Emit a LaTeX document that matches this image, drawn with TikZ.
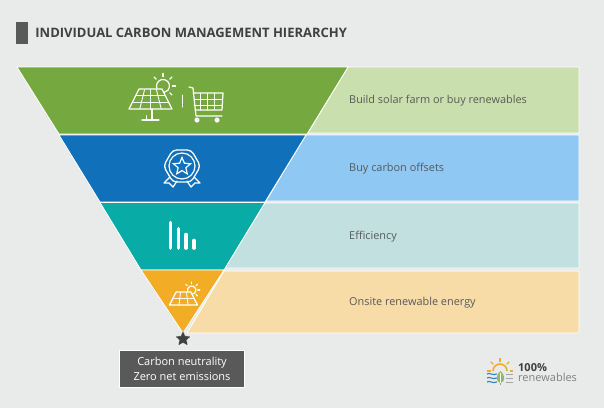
\documentclass[tikz,border=0pt]{standalone}
\usepackage{fontspec}
\setmainfont{Open Sans}
\usepackage{xcolor}
\usetikzlibrary{shapes.geometric, positioning, calc}

\definecolor{pagegray}{HTML}{E9EBEA}
\definecolor{markgray}{HTML}{595959}
\definecolor{titlegray}{HTML}{404040}
\definecolor{solargreen}{HTML}{75A83F}
\definecolor{offsetblue}{HTML}{1071BA}
\definecolor{efficiencyteal}{HTML}{08ABA6}
\definecolor{onsiteorange}{HTML}{F2AC26}
\definecolor{solarbar}{HTML}{C9E0AE}
\definecolor{offsetbar}{HTML}{90C8F4}
\definecolor{efficiencybar}{HTML}{C2E0E0}
\definecolor{onsitebar}{HTML}{F8DCA8}
\definecolor{logoblue}{HTML}{2E86C8}

\begin{document}
\begin{tikzpicture}[
        x=1pt, y=-1pt,
        band/.style={draw=white, line width=0.8pt},
        barlabel/.style={anchor=west, inner sep=0pt, font=\fontsize{10.9}{12}\selectfont, text=markgray},
        icon/.style={draw=white, line width=1.25pt, line join=round, line cap=round},
        solar/.pic={
            % sun, only the part above the panel
            \draw[icon] ($(12.5,-6)+(160:6.5)$) arc[start angle=160, end angle=440, radius=6.5];
            \foreach \a in {-135,-90,-45,0,45} {
                \draw[icon] ($(12.5,-6)+(\a:9.5)$) -- ($(12.5,-6)+(\a:12.5)$);
            }
            % panel
            \draw[icon] (-11.5,-3) -- (11.5,-3) -- (21.5,17) -- (-21.5,17) -- cycle;
        }
    ]

    \useasboundingbox (0,0) rectangle (604,408);
    \fill[pagegray] (0,0) rectangle (604,408);

    % Title
    \node[fill=markgray, minimum width=12pt, minimum height=22pt, inner sep=0pt] (titlemark) at (22,33) {};
    \node[right=7pt of titlemark, inner sep=0pt, font=\bfseries\fontsize{13}{14}\selectfont, text=titlegray] (title) {INDIVIDUAL CARBON MANAGEMENT HIERARCHY};

    % Bars behind the funnel
    \fill[solarbar, band] (348,67) -- (579,67) -- (579,133) -- (308,133) -- cycle;
    \fill[offsetbar, band] (306,135) -- (579,135) -- (579,201) -- (266,201) -- cycle;
    \fill[efficiencybar, band] (265,203) -- (579,203) -- (579,268) -- (225,268) -- cycle;
    \fill[onsitebar, band] (224,271) -- (579,271) -- (579,333) -- (187,333) -- cycle;

    % Funnel
    \fill[solargreen, band] (17,67) -- (348,67) -- (307,134) -- (59,134) -- cycle;
    \fill[offsetblue, band] (59,135) -- (306,135) -- (265,202) -- (100,202) -- cycle;
    \fill[efficiencyteal, band] (100,202.5) -- (265,202.5) -- (224,270) -- (141,270) -- cycle;
    \fill[onsiteorange, band] (141,270) -- (224,270) -- (183,333) -- cycle;

    % Labels
    \node[barlabel] (farm) at (349,100.5) {Build solar farm or buy renewables};
    \node[barlabel] (offsets) at (349,168.5) {Buy carbon offsets};
    \node[barlabel] (efficiency) at (349,236.5) {Efficiency};
    \node[barlabel] (onsite) at (349,302.5) {Onsite renewable energy};

    % Star and result box
    \node[star, star points=5, star point ratio=2.2, fill=titlegray, draw=white, line width=0.3pt, minimum size=17pt, inner sep=0pt] (neutral) at (183,339) {};
    \node[fill=markgray, draw=white, line width=0.3pt, minimum width=125pt, minimum height=37pt, inner sep=0pt, align=center, text=white, font=\fontsize{11}{15}\selectfont] (result) at (182,368.5) {Carbon neutrality\\Zero net emissions};

    % Solar farm icon
    \pic at (150.5,92) {solar};
    \foreach \y/\w in {95.7/14.85, 102.3/18.15} {
        \draw[icon, line width=0.9pt] (150.5-\w,\y) -- (150.5+\w,\y);
    }
    \foreach \t/\b in {-5.75/-10.75, 0/0, 5.75/10.75} {
        \draw[icon, line width=0.9pt] (150.5+\t,89) -- (150.5+\b,109);
    }
    \draw[icon] (152,109) -- (152,120);
    \draw[icon] (142,120) -- (159,120);
    \draw[icon, line width=0.9pt] (146.5,115.5) -- (146.5,120);
    \draw[icon, line width=0.6pt] (182,95) -- (182,107);

    % Cart icon
    \draw[icon] (189,87) -- (193,88) -- (196,116) -- (222,116);
    \draw[icon] (193.5,93) -- (223,93) -- (222,110) -- (195,110);
    \foreach \x in {200,207,214} {
        \draw[icon, line width=0.9pt] (\x,93) -- (\x,110);
    }
    \foreach \y in {99,105} {
        \draw[icon, line width=0.9pt] (194,\y) -- (222.5,\y);
    }
    \fill[white] (197,120) circle (2.6) (217,120) circle (2.6);

    % Badge icon
    \node[regular polygon, regular polygon sides=6, draw=white, line width=1.3pt, rounded corners=4pt, minimum size=37pt, inner sep=0pt] (badge) at (182,166) {};
    \node[circle, draw=white, line width=1.2pt, minimum size=26pt, inner sep=0pt] (medal) at (182,166) {};
    \node[star, star points=5, star point ratio=2.2, draw=white, line width=1.2pt, minimum size=18pt, inner sep=0pt] (medalstar) at (182,166.5) {};
    \draw[icon] (170,177) -- (164,183) -- (169,183) -- (173,187) -- (177,181);
    \draw[icon] (194,177) -- (200,183) -- (195,183) -- (191,187) -- (187,181);

    % Efficiency bars
    \draw[icon, line width=3.6pt] (170.5,222.5) -- (170.5,248);
    \draw[icon, line width=3.6pt] (178.5,228.5) -- (178.5,248);
    \draw[icon, line width=3.6pt] (186,234.5) -- (186,248);
    \draw[icon, line width=3.6pt] (194,240.5) -- (194,248);

    % Small solar icon
    \pic[scale=0.65] at (183.5,294) {solar};
    \draw[icon, line width=0.9pt] (173.5,298) -- (193.5,298);
    \draw[icon, line width=0.9pt] (180.5,292) -- (179,305);
    \draw[icon, line width=0.9pt] (186.5,292) -- (188,305);

    % Logo
    \foreach \a in {0,45,90,135,180} {
        \draw[onsiteorange, line width=1.3pt] ($(500,371)+(-\a:9.5)$) -- ($(500,371)+(-\a:13)$);
    }
    \draw[onsiteorange, line width=1.6pt] (493,371) arc[start angle=180, end angle=360, radius=7];
    \foreach \y in {374,378,382} {
        \draw[logoblue, line width=1.1pt] (487,\y) .. controls (490,\y-2) and (492,\y+2) .. (497,\y);
    }
    \fill[solargreen!80] (500.5,371) .. controls (506,376) and (505,382) .. (500.5,383) .. controls (496,382) and (495,376) .. (500.5,371) -- cycle;
    \draw[white, line width=0.4pt] (500.5,373) -- (500.5,383);
    \draw[solargreen!80, line width=0.5pt] (500.5,383) -- (500.5,385);
    \foreach \y in {374,378,382} {
        \draw[gray!70, line width=0.9pt] (505.5,\y) -- (513,\y);
    }
    \node[anchor=west, inner sep=0pt, text=titlegray, font=\bfseries\fontsize{11}{12}\selectfont] (logotop) at (518,367.5) {100\%};
    \node[anchor=west, inner sep=0pt, text=gray, font=\fontsize{11}{12}\selectfont] (logobottom) at (518,377) {renewables};

\end{tikzpicture}
\end{document}
